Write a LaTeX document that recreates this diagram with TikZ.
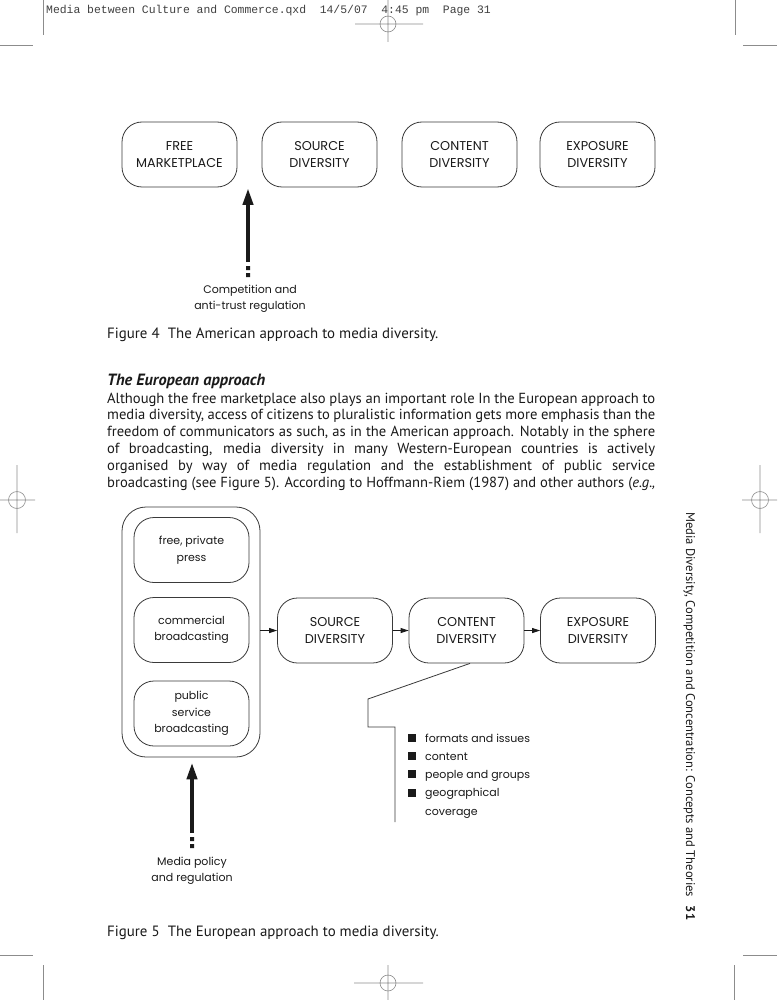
\documentclass[tikz,border=0pt]{standalone}
\usepackage{fontspec}
\setmainfont{PT Sans}
\newfontfamily\diagfont{Poppins}
\newfontfamily\headfont{Liberation Mono}
\usetikzlibrary{arrows.meta,positioning}
\definecolor{ink}{HTML}{1A1A1A}
\definecolor{boxline}{HTML}{3A3A3A}
\definecolor{cropgray}{HTML}{8C8C8C}
\newcommand{\diagsize}{\diagfont\fontsize{11}{16.5}\selectfont}
\newcommand{\capssize}{\diagfont\fontsize{12.8}{17}\selectfont}
\newcommand{\bodysize}{\fontsize{14.6}{16.8}\selectfont}
\newcommand{\jline}[1]{\makebox[548pt][s]{#1}}
\tikzset{
  box/.style={draw=boxline, line width=0.8pt, rounded corners=20pt, minimum width=115pt,
    minimum height=65pt, inner sep=0pt, align=center, font=\diagsize, text=ink},
  capsbox/.style={box, font=\capssize},
  outerbox/.style={draw=boxline, line width=0.8pt, rounded corners=24pt, minimum width=138pt,
    minimum height=250pt, inner sep=0pt},
  lab/.style={font=\diagsize, text=ink, align=center, inner sep=0pt},
  txt/.style={font=\bodysize, text=ink, inner sep=0pt, anchor=base west},
  captxt/.style={txt, font=\fontsize{14.9}{17}\selectfont},
  flow/.style={draw=ink, line width=0.9pt, -{Triangle[width=5pt,length=8pt]}},
  push/.style={draw=ink, line width=4pt, -{Triangle[width=10pt,length=17pt]}},
  crop/.style={draw=cropgray, line width=0.6pt},
  bracket/.style={draw=boxline, line width=0.8pt},
}

\begin{document}
\begin{tikzpicture}[x=1pt,y=-1pt]
  \useasboundingbox[fill=white] (0,0) rectangle (777,1000);

  % slug line and printer marks
  \node[anchor=base west, inner sep=0pt, text=black!75,
    font=\headfont\fontsize{11.4}{12}\selectfont] (slug) at (46,14)
    {Media between Culture and Commerce.qxd\ \ 14/5/07\ \ 4:45 pm\ \ Page 31};
  \draw[crop] (43,0) -- (43,35) (0,45) -- (33,45);
  \draw[crop] (735,0) -- (735,35) (743,45) -- (777,45);
  \draw[crop] (43,965) -- (43,1000) (0,955) -- (33,955);
  \draw[crop] (734,965) -- (734,1000) (743,955) -- (777,955);
  \draw[crop] (388,24) circle (8) (388,0) -- (388,42) (355,24) -- (423,24);
  \draw[crop] (388,983) circle (8) (388,965) -- (388,1000) (354,983) -- (423,983);
  \draw[crop] (17,500) circle (8.5) (17,465) -- (17,533) (0,500) -- (35,500);
  \draw[crop] (760,500) circle (8.5) (760,465) -- (760,533) (742,500) -- (777,500);

  % Figure 4
  \node[capsbox] (free4)     at (179.5,154.5) {FREE\\MARKETPLACE};
  \node[capsbox] (source4)   at (319.5,154.5) {SOURCE\\DIVERSITY};
  \node[capsbox] (content4)  at (459.5,154.5) {CONTENT\\DIVERSITY};
  \node[capsbox] (exposure4) at (597.5,154.5) {EXPOSURE\\DIVERSITY};

  \coordinate (tip4) at (248,188);
  \coordinate (foot4) at (248,262);
  \draw[push] (foot4) -- (tip4);
  \fill[ink] (246,266) rectangle (250,270) (246,273) rectangle (250,277);
  \node[lab] (comp) at (250,299) {Competition and\\anti-trust regulation};

  \node[captxt] (cap4) at (107,338) {Figure 4\hspace{0.55em}The American approach to media diversity.};

  % running text
  \node[txt, font=\fontsize{16.3}{18}\selectfont] (head) at (107,385) {\bfseries\itshape The European approach};
  \node[txt] (para) at (107,403) {\parbox[t]{548pt}{\bodysize
    \jline{Although the free marketplace also plays an important role In the European approach to}\par
    \jline{media diversity, access of citizens to pluralistic information gets more emphasis than the}\par
    \jline{freedom of communicators as such, as in the American approach. Notably in the sphere}\par
    \jline{of broadcasting, media diversity in many Western-European countries is actively}\par
    \jline{organised by way of media regulation and the establishment of public service}\par
    \jline{broadcasting (see Figure 5). According to Hoffmann-Riem (1987) and other authors (\textit{e.g.,}}}};

  % Figure 5
  \node[outerbox] (outer) at (191,632) {};
  \node[box] (press)  at (191.5,550)   {free, private\\press};
  \node[box] (comm)   at (191.5,630)   {commercial\\broadcasting};
  \node[box] (public) at (191.5,713.5) {public\\service\\broadcasting};
  \node[capsbox] (source5)   at (335,630.5)   {SOURCE\\DIVERSITY};
  \node[capsbox] (content5)  at (466.5,630.5) {CONTENT\\DIVERSITY};
  \node[capsbox] (exposure5) at (598,630.5)   {EXPOSURE\\DIVERSITY};

  \draw[flow] (outer.east |- source5) -- (source5.west);
  \draw[flow] (source5) -- (content5);
  \draw[flow] (content5) -- (exposure5);

  \coordinate (knee) at (368,699);
  \coordinate (step5) at (395,727);
  \coordinate (end5) at (395,822);
  \draw[bracket] ([xshift=3.5pt]content5.south) -- (knee) -- (knee |- step5) -- (step5) -- (end5);

  \foreach \entry [count=\i] in {formats and issues, content, people and groups, geographical} {
    \node[lab, anchor=base west] (item\i) at (425,{742+18.2*(\i-1)}) {\entry};
    \fill[ink] ([xshift=-17pt]item\i.base west) rectangle ++(8,-8);
  }
  \node[lab, anchor=base west] (item5) at (425,815) {coverage};

  \coordinate (foot5) at (192,833);
  \draw[push] (foot5) -- ([yshift=-5pt]outer.south -| foot5);
  \fill[ink] (190,837) rectangle (194,841) (190,844) rectangle (194,848);
  \node[lab] (policy) at (192,871) {Media policy\\and regulation};

  \node[captxt] (cap5) at (107,936) {Figure 5\hspace{0.55em}The European approach to media diversity.};

  % margin title
  \node[txt, rotate=-90, font=\fontsize{12.6}{14}\selectfont] (side) at (686,512)
    {Media Diversity, Competition and Concentration: Concepts and Theories\hspace{0.7em}\textbf{31}};
\end{tikzpicture}
\end{document}
